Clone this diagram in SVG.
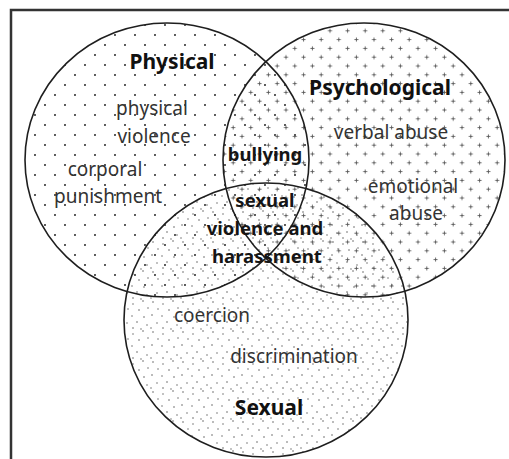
<svg xmlns="http://www.w3.org/2000/svg" width="509" height="459" viewBox="0 0 509 459">
<style>
.ring{fill:none;stroke:#1e1e1e;stroke-width:1.6}
.head{font-family:"Noto Sans","DejaVu Sans",sans-serif;font-weight:bold;font-size:21px;fill:#111;text-anchor:middle}
.mid{font-family:"Noto Sans","DejaVu Sans",sans-serif;font-weight:bold;font-size:18.5px;fill:#151515;text-anchor:middle}
.lbl{font-family:"Noto Sans","DejaVu Sans",sans-serif;font-size:19px;fill:#333;text-anchor:middle}
</style>
<defs>
<pattern id="pDots" width="20" height="20" patternUnits="userSpaceOnUse">
<circle cx="5" cy="5" r="1.05" fill="#333"/>
<circle cx="15" cy="15" r="1.05" fill="#333"/>
</pattern>
<pattern id="pPlus" width="17.6" height="17.6" patternUnits="userSpaceOnUse">
<path d="M2.4 4.4h4M4.4 2.4v4M11.2 13.2h4M13.2 11.2v4" stroke="#555" stroke-width="0.9"/>
</pattern>
<pattern id="pStip" width="30" height="30" patternUnits="userSpaceOnUse">
<g fill="#555">
<circle cx="3" cy="2" r="0.75"/><circle cx="13" cy="4" r="0.7"/><circle cx="23" cy="1" r="0.75"/>
<circle cx="8" cy="9" r="0.7"/><circle cx="19" cy="10" r="0.75"/><circle cx="28" cy="8" r="0.7"/>
<circle cx="2" cy="15" r="0.75"/><circle cx="12" cy="16" r="0.7"/><circle cx="24" cy="17" r="0.75"/>
<circle cx="7" cy="23" r="0.7"/><circle cx="17" cy="22" r="0.75"/><circle cx="27" cy="25" r="0.7"/>
<circle cx="1" cy="28" r="0.7"/><circle cx="13" cy="28" r="0.75"/><circle cx="21" cy="29" r="0.65"/>
</g>
</pattern>
</defs>
<g id="frame">
<path d="M11 459V10H509" fill="none" stroke="#333" stroke-width="2.5"/>
</g>
<g id="fills">
<ellipse cx="167" cy="160" rx="142" ry="137" fill="url(#pDots)"/>
<ellipse cx="364" cy="160" rx="141" ry="137" fill="url(#pPlus)"/>
<ellipse cx="266" cy="320" rx="142" ry="137" fill="url(#pStip)"/>
</g>
<g id="physical">
<ellipse class="ring" cx="167" cy="160" rx="142" ry="137"/>
<text class="head" x="172" y="69">Physical</text>
<text class="lbl" x="152" y="115">physical</text>
<text class="lbl" x="154" y="143">violence</text>
<text class="lbl" x="105" y="176">corporal</text>
<text class="lbl" x="108" y="203">punishment</text>
</g>
<g id="psychological">
<ellipse class="ring" cx="364" cy="160" rx="141" ry="137"/>
<text class="head" x="380" y="95">Psychological</text>
<text class="lbl" x="391" y="139">verbal abuse</text>
<text class="lbl" x="413" y="193">emotional</text>
<text class="lbl" x="416" y="220">abuse</text>
</g>
<g id="sexual">
<ellipse class="ring" cx="266" cy="320" rx="142" ry="137"/>
<text class="head" x="269" y="415">Sexual</text>
<text class="lbl" x="212" y="322">coercion</text>
<text class="lbl" x="294" y="363">discrimination</text>
</g>
<g id="bullying">
<text class="mid" x="265" y="161">bullying</text>
</g>
<g id="sexual-violence">
<text class="mid" x="265" y="207">sexual</text>
<text class="mid" x="265" y="235">violence and</text>
<text class="mid" x="267" y="263">harassment</text>
</g>
<g id="connectors"/>
</svg>
